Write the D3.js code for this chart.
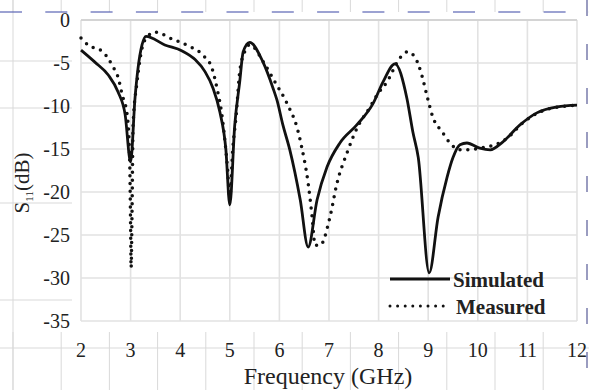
<!DOCTYPE html>
<html lang="en">
<head>
<meta charset="UTF-8">
<title>S11 - Simulated vs Measured</title>
<script src="https://d3js.org/d3.v7.min.js"></script>
<style>
  body { margin: 0; background: #fff; }
  text { font-family: "Liberation Serif", "Times New Roman", serif; fill: #222; }
</style>
</head>
<body>
<div id="chart"></div>
<script>
(function(d3) {
  'use strict';

  // data (GHz, dB)
  var simFreq = [2.0, 2.28, 2.55, 2.75, 2.89, 3.0, 3.09, 3.15, 3.23, 3.31, 3.69, 4.04, 4.3, 4.5, 4.66, 4.8, 4.92, 5.0,
    5.1, 5.2, 5.27, 5.4, 5.67, 5.87, 5.95, 6.07, 6.21, 6.42, 6.58, 6.76, 6.96, 7.22, 7.56, 7.89, 8.09, 8.33,
    8.57, 8.69, 8.8, 9.02, 9.2, 9.38, 9.5, 9.64, 9.78, 10.04, 10.25, 10.5, 10.85, 11.19, 11.6, 12.0];
  var simS11 = [-3.5, -4.9, -6.4, -8.4, -11, -16.5, -9, -5.6, -2.9, -1.9, -2.9, -3.6, -4.6, -6.0, -7.9, -10.7, -15, -21.5,
    -12.2, -7.2, -3.7, -2.6, -4.9, -7.9, -9.3, -12.2, -15.1, -20.9, -26.4, -20.9, -17.1, -14.3, -12.2, -9.7, -7.2, -5.1,
    -9.1, -13, -16, -29.4, -22.9, -18.3, -16, -14.5, -14.3, -14.9, -15.1, -14.2, -12.2, -10.8, -10.1, -9.9];

  var measFreq = [2.0, 2.14, 2.44, 2.65, 2.75, 2.83, 2.93, 2.98, 3.0, 3.01, 3.03, 3.05, 3.13, 3.23, 3.33, 3.49, 3.83,
    4.16, 4.46, 4.64, 4.74, 4.84, 4.95, 5.0, 5.06, 5.13, 5.2, 5.3, 5.4, 5.71, 5.91, 6.17, 6.37, 6.45, 6.58, 6.66,
    6.72, 6.82, 7.02, 7.16, 7.36, 7.58, 7.83, 7.97, 8.17, 8.43, 8.59, 8.73, 8.87, 8.97, 9.1, 9.28, 9.44, 9.64,
    9.84, 10.04, 10.35, 10.6, 10.9, 11.25, 11.65, 12.0];
  var measS11 = [-2.1, -2.9, -3.7, -5.5, -6.7, -8.7, -11, -16, -24, -28.8, -22, -12.2, -7.2, -3.3, -2.0, -1.4, -2.2,
    -3.0, -4.1, -5.6, -7.9, -11, -17, -20.5, -15, -11, -6.0, -3.7, -2.9, -5.2, -7.2, -9.9, -12.8, -14.8, -19, -22.9,
    -26.2, -26.2, -22.9, -19, -15.5, -12.4, -10.1, -8.7, -7.2, -4.4, -3.7, -4.3, -6.4, -8.7, -11.4, -13, -14.3, -15.1,
    -15.1, -14.9, -14.5, -13.7, -12.0, -10.7, -10.1, -9.9];

  var xTicks = [2, 3, 4, 5, 6, 7, 8, 9, 10, 11, 12];
  var yTicks = [0, -5, -10, -15, -20, -25, -30, -35];
  var seriesNames = ['Simulated', 'Measured'];

  var width = 589, height = 390;
  var left = 81, right = 577, top = 20, bottom = 321;

  var svg = d3.select('#chart').append('svg')
    .attr('width', width).attr('height', height);

  // faint page/table lines behind the figure (from the scanned document)
  var bg = svg.append('g').attr('stroke', '#d9d9d9').attr('stroke-width', 1);
  var colX = d3.range(13, 589, 48.2);
  colX.forEach(function(x) {
    bg.append('line').attr('x1', x).attr('x2', x).attr('y1', 0).attr('y2', 12);
    bg.append('line').attr('x1', x).attr('x2', x).attr('y1', 332).attr('y2', 390);
  });
  bg.append('line').attr('x1', 13).attr('x2', 13).attr('y1', 0).attr('y2', 390);
  [61, 108, 203, 300].forEach(function(y) {
    bg.append('line').attr('x1', 0).attr('x2', 72).attr('y1', y).attr('y2', y);
  });
  bg.append('line').attr('x1', 0).attr('x2', 589).attr('y1', 348).attr('y2', 348);
  var dash = svg.append('g').attr('stroke', '#5a64b4').attr('stroke-width', 1.2);
  d3.range(0, 589, 45.3).forEach(function(x) {
    dash.append('line').attr('x1', x).attr('x2', x + 22).attr('y1', 12).attr('y2', 12);
  });
  svg.append('line').attr('x1', 587).attr('x2', 587).attr('y1', 0).attr('y2', 390)
    .attr('stroke', '#9a9cc0').attr('stroke-width', 2).attr('stroke-dasharray', '16 28');

  var x = d3.scaleLinear().domain([2, 12]).range([left, right]);
  var y = d3.scaleLinear().domain([-35, 0]).range([bottom, top]);

  svg.append('rect').attr('x', left).attr('y', top)
    .attr('width', right - left).attr('height', bottom - top).attr('fill', '#fff');

  // grid
  var grid = svg.append('g').attr('stroke', '#e2e2e2').attr('stroke-width', 1.6);
  grid.selectAll('.vg').data(xTicks).enter().append('line')
    .attr('x1', function(d) { return x(d); }).attr('x2', function(d) { return x(d); })
    .attr('y1', top).attr('y2', bottom);
  grid.selectAll('.hg').data(yTicks).enter().append('line')
    .attr('x1', left).attr('x2', right)
    .attr('y1', function(d) { return y(d); }).attr('y2', function(d) { return y(d); });
  svg.append('line').attr('x1', left).attr('x2', right).attr('y1', top).attr('y2', top)
    .attr('stroke', '#d4d4d4').attr('stroke-width', 2);

  // tick labels
  svg.append('g').selectAll('text').data(yTicks).enter().append('text')
    .attr('x', 70).attr('y', function(d) { return y(d) + 7; })
    .attr('text-anchor', 'end').attr('font-size', 20)
    .text(function(d) { return String(d); });
  svg.append('g').selectAll('text').data(xTicks).enter().append('text')
    .attr('x', function(d) { return x(d); }).attr('y', 357)
    .attr('text-anchor', 'middle').attr('font-size', 20)
    .text(function(d) { return d; });

  svg.append('text').attr('x', 328).attr('y', 384).attr('text-anchor', 'middle')
    .attr('font-size', 24).text('Frequency (GHz)');

  var yt = svg.append('text').attr('transform', 'translate(29,183) rotate(-90)')
    .attr('text-anchor', 'middle').attr('font-size', 21);
  yt.append('tspan').text('S');
  yt.append('tspan').attr('font-size', 11).attr('dy', 4).text('11');
  yt.append('tspan').attr('dy', -4).text('(dB)');

  // curves
  var line = d3.line()
    .x(function(d) { return x(d[0]); })
    .y(function(d) { return y(d[1]); })
    .curve(d3.curveMonotoneX);

  var measData = d3.zip(measFreq, measS11);
  var simData = d3.zip(simFreq, simS11);

  svg.append('path').datum(measData).attr('d', line)
    .attr('fill', 'none').attr('stroke', '#111').attr('stroke-width', 3.5)
    .attr('stroke-linecap', 'round').attr('stroke-dasharray', '0 7.8');
  svg.append('path').datum(simData).attr('d', line)
    .attr('fill', 'none').attr('stroke', '#111').attr('stroke-width', 2.8)
    .attr('stroke-linejoin', 'round');

  // legend
  var lg = svg.append('g');
  lg.append('line').attr('x1', 390).attr('x2', 450).attr('y1', 279).attr('y2', 279)
    .attr('stroke', '#111').attr('stroke-width', 2.8);
  lg.append('line').attr('x1', 390).attr('x2', 446).attr('y1', 306).attr('y2', 306)
    .attr('stroke', '#111').attr('stroke-width', 3).attr('stroke-linecap', 'round')
    .attr('stroke-dasharray', '0 7.6');
  lg.append('text').attr('x', 453).attr('y', 287).attr('font-size', 21).attr('font-weight', 'bold')
    .text(seriesNames[0]);
  lg.append('text').attr('x', 456).attr('y', 314).attr('font-size', 21).attr('font-weight', 'bold')
    .text(seriesNames[1]);

})(window.d3);
</script>
</body>
</html>
